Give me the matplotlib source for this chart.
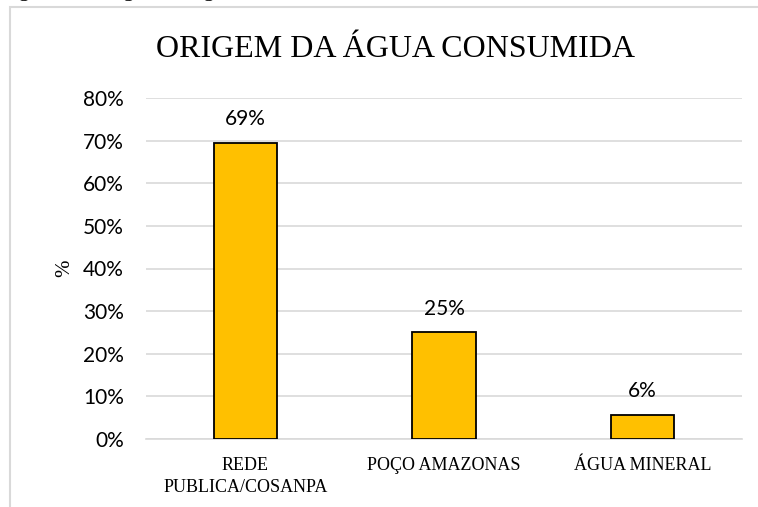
import matplotlib
matplotlib.use("Agg")
import matplotlib.pyplot as plt
from matplotlib.patches import Rectangle
from matplotlib.ticker import PercentFormatter

# data
categories = ["REDE\nPUBLICA/COSANPA", "POÇO AMAZONAS", "ÁGUA MINERAL"]
values = [0.694, 0.25, 0.056]
labels = ["69%", "25%", "6%"]
y_ticks = [0, 0.1, 0.2, 0.3, 0.4, 0.5, 0.6, 0.7, 0.8]

W, H = 758, 507
fig = plt.figure(figsize=(W / 100, H / 100), dpi=100)

# clipped caption above the chart frame
fig.text(0.0, 1.007, "Figura 2 - Origem da água consumida", family="Liberation Serif",
         fontsize=16, va="baseline", ha="left")

# chart frame (runs off the right and bottom edges)
fig.patches.append(Rectangle((10 / W, -0.05), 1.0, (H - 7) / H + 0.05,
                             transform=fig.transFigure, fill=False,
                             edgecolor="#d9d9d9", linewidth=1.5))

ax = fig.add_axes([146 / W, (H - 439) / H, 596 / W, 341 / H])
x = range(len(categories))
bars = ax.bar(x, values, width=0.32, color="#FFC000", edgecolor="black",
              linewidth=1.3, zorder=3)
ax.bar_label(bars, labels=labels, padding=10, fontsize=15, family="Lato", zorder=4)

ax.set_xlim(-0.5, len(categories) - 0.5)
ax.set_ylim(0, 0.8)
ax.set_yticks(y_ticks)
ax.yaxis.set_major_formatter(PercentFormatter(1.0, decimals=0))
ax.grid(axis="y", color="#d9d9d9", linewidth=1.2, zorder=0)

for s in ["top", "right", "left"]:
    ax.spines[s].set_visible(False)
ax.spines["bottom"].set_color("#d9d9d9")
ax.spines["bottom"].set_linewidth(1.2)
ax.tick_params(axis="both", length=0)
ax.tick_params(axis="y", pad=16)
ax.tick_params(axis="x", pad=13)

ax.set_xticks(list(x))
ax.set_xticklabels(categories, family="Liberation Serif", fontsize=13, linespacing=1.35)
for t in ax.get_yticklabels():
    t.set_family("Lato")
    t.set_fontsize(15)

ax.set_ylabel("%", family="Liberation Serif", fontsize=15, labelpad=6)
fig.text(395 / W, 1 - 57 / H, "ORIGEM DA ÁGUA CONSUMIDA", family="Liberation Serif",
         fontsize=23, ha="center", va="baseline")

fig.savefig("out.png", dpi=100)
